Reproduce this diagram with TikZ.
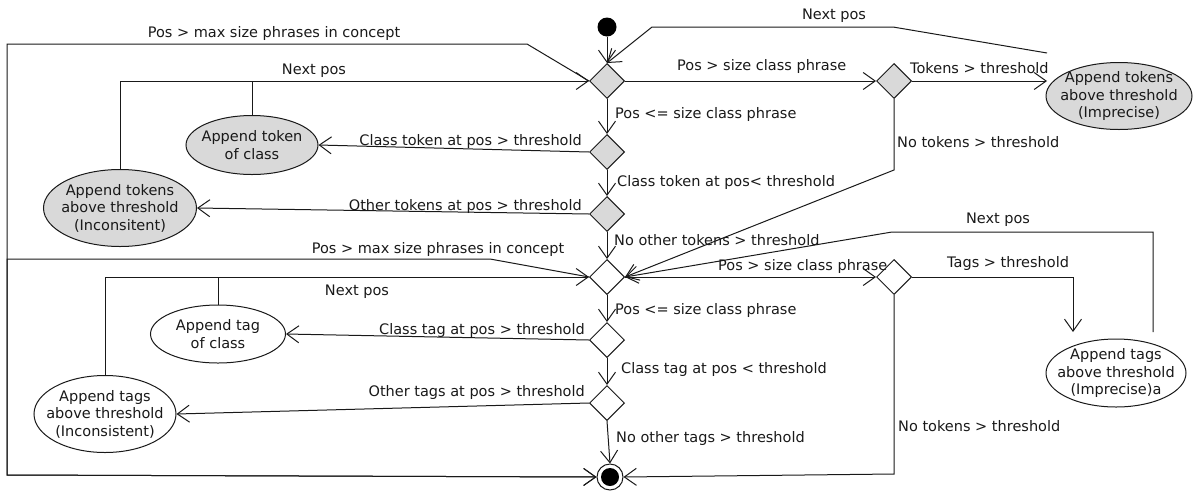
\documentclass[tikz,border=0pt]{standalone}
\usepackage{fontspec}
\setmainfont{DejaVu Sans}
\usetikzlibrary{shapes.geometric,arrows.meta,calc}
\definecolor{lgray}{RGB}{217,217,217}
\definecolor{ink}{RGB}{25,25,25}
\begin{document}
\begin{tikzpicture}[x=1pt,y=-1pt,
  every node/.style={font=\fontsize{14.5}{17.5}\selectfont, text=ink},
  line/.style={line width=1pt, draw=ink},
  arr/.style={line, -{Straight Barb[length=12pt,width=17pt,line width=1pt]}},
  dec/.style={diamond, aspect=1, draw=ink, line width=1pt, minimum width=35, minimum height=35, inner sep=0pt},
  act/.style={ellipse, draw=ink, line width=1pt, inner sep=0pt},
  txt/.style={label={[align=center, inner sep=0pt, font=\fontsize{14.5}{17.5}\selectfont, text=ink]center:#1}},
  lbl/.style={inner sep=0pt}]
\useasboundingbox (0,0) rectangle (1194,491);
% start / end
\node[circle, fill=black, minimum size=19, inner sep=0pt] (start) at (607,27) {};
\node[circle, draw=ink, line width=1pt, fill=white, minimum size=26, inner sep=0pt] (endn) at (610,477) {};
\fill (endn.center) circle (9);
% decisions (tokens)
\node[dec, fill=lgray] (d1) at (607,81) {};
\node[dec, fill=lgray] (d2) at (607,152) {};
\node[dec, fill=lgray] (d3) at (607,214) {};
\node[dec, fill=lgray] (d7) at (894,81) {};
% decisions (tags)
\node[dec, fill=white] (d4) at (607,277) {};
\node[dec, fill=white] (d5) at (607,340) {};
\node[dec, fill=white] (d6) at (607,403) {};
\node[dec, fill=white] (d8) at (894,277) {};
% activities
\node[act, fill=lgray, minimum width=132, minimum height=59, txt={Append token\\of class}] (tokcls) at (252,145) {};
\node[act, fill=lgray, minimum width=153, minimum height=77, txt={Append tokens\\above threshold\\(Inconsitent)}] (tokinc) at (120,208) {};
\node[act, fill=lgray, minimum width=146, minimum height=67, txt={Append tokens\\above threshold\\(Imprecise)}] (tokimp) at (1119,96) {};
\node[act, fill=white, minimum width=135, minimum height=58, txt={Append tag\\of class}] (tagcls) at (218,334) {};
\node[act, fill=white, minimum width=142, minimum height=77, txt={Append tags\\above threshold\\(Inconsistent)}] (taginc) at (105,414) {};
\node[act, fill=white, minimum width=140, minimum height=68, txt={Append tags\\above threshold\\(Imprecise)a}] (tagimp) at (1116,373) {};
% free ends
\coordinate (tokimpend) at (1047,53);
\coordinate (tagimpend) at (1153,332);
% connectors: tokens part
\draw[arr] (start) -- (d1.north);
\draw[arr] (d1.west) -- (527,44) -- (7,44) -- (7,475) -- (endn.west);
\draw[arr] (tokinc.north) |- (d1.west);
\draw[line] (tokcls.north) -- (tokcls.north |- d1.west);
\draw[arr] (d1.south) -- (d2.north);
\draw[arr] (d2.west) -- (tokcls.east);
\draw[arr] (d2.south) -- (d3.north);
\draw[arr] (d3.west) -- (tokinc.east);
\draw[arr] (d3.south) -- (d4.north);
\draw[arr] (d1.east) -- (d7.west);
\draw[arr] (d7.east) -- (1047,81);
\draw[arr] (tokimpend) -- (893,27) -- (652,27) -- (d1.north);
\draw[arr] (d7.south) -- (894,170) -- (d4.east);
% connectors: tags part
\draw[arr] (d4.west) -- (490,259) -- (7,259) -- (7,475) -- (endn.west);
\draw[arr] (taginc.north) |- (d4.west);
\draw[line] (tagcls.north) -- (tagcls.north |- d4.west);
\draw[arr] (d4.south) -- (d5.north);
\draw[arr] (d5.west) -- (tagcls.east);
\draw[arr] (d5.south) -- (d6.north);
\draw[arr] (d6.west) -- (taginc.east);
\draw[arr] (d6.south) -- (endn.north);
\draw[arr] (d4.east) -- (d8.west);
\draw[arr] (d8.east) -- (1073,277) -- (1073,332);
\draw[arr] (tagimpend) -- (1153,232) -- (892,232) -- (d4.east);
\draw[arr] (d8.south) -- (894,474) -- (endn.east);
% labels
\node[lbl, anchor=base] (l1) at (274,37) {Pos > max size phrases in concept};
\node[lbl, anchor=base] (l2) at (314,74) {Next pos};
\node[lbl, anchor=base] (l3) at (834,19) {Next pos};
\node[lbl, anchor=base west] (l4) at (677,70) {Pos > size class phrase};
\node[lbl, anchor=base west] (l5) at (910,73) {Tokens > threshold};
\node[lbl, anchor=base west] (l6) at (615,118) {Pos <= size class phrase};
\node[lbl, anchor=base east] (l7) at (582,145) {Class token at pos > threshold};
\node[lbl, anchor=base west] (l8) at (897,147) {No tokens > threshold};
\node[lbl, anchor=base west] (l9) at (617,186) {Class token at pos< threshold};
\node[lbl, anchor=base east] (l10) at (582,210) {Other tokens at pos > threshold};
\node[lbl, anchor=base west] (l11) at (614,245) {No other tokens > threshold};
\node[lbl, anchor=base] (l12) at (998,223) {Next pos};
\node[lbl, anchor=base] (l13) at (438,253) {Pos > max size phrases in concept};
\node[lbl, anchor=base west] (l14) at (718,270) {Pos > size class phrase};
\node[lbl, anchor=base west] (l15) at (947,267) {Tags > threshold};
\node[lbl, anchor=base] (l16) at (357,295) {Next pos};
\node[lbl, anchor=base west] (l17) at (615,314) {Pos <= size class phrase};
\node[lbl, anchor=base east] (l18) at (585,334) {Class tag at pos > threshold};
\node[lbl, anchor=base west] (l19) at (621,373) {Class tag at pos < threshold};
\node[lbl, anchor=base east] (l20) at (585,396) {Other tags at pos > threshold};
\node[lbl, anchor=base west] (l21) at (616,442) {No other tags > threshold};
\node[lbl, anchor=base west] (l22) at (898,431) {No tokens > threshold};
\end{tikzpicture}
\end{document}
